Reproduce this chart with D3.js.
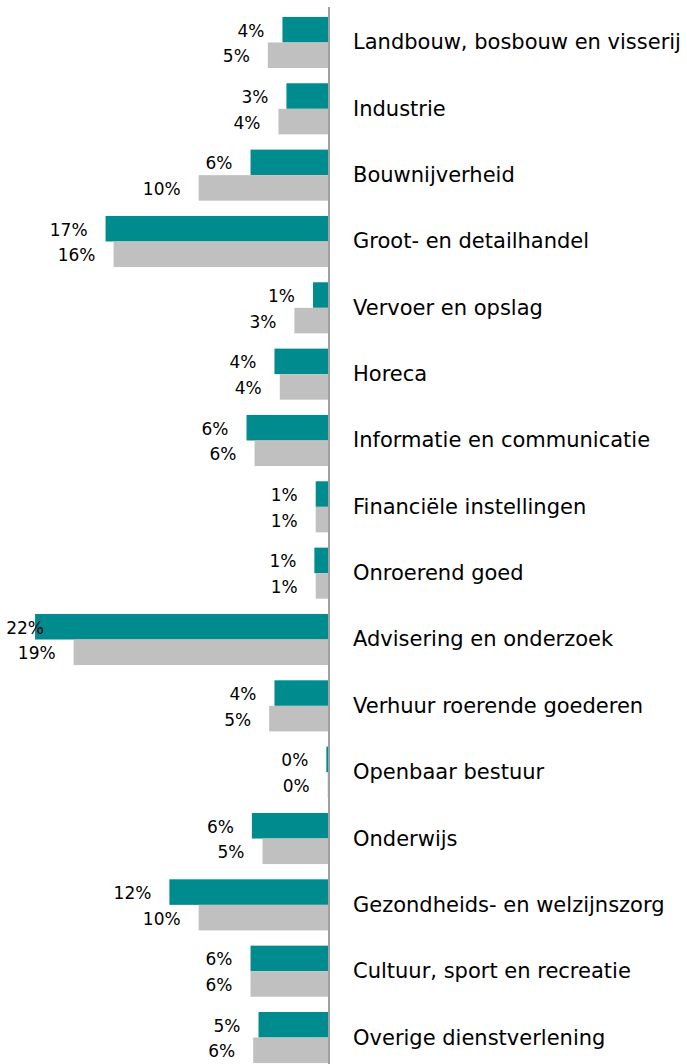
<!DOCTYPE html>
<html>
<head>
<meta charset="utf-8">
<script src="https://cdn.jsdelivr.net/npm/d3@7"></script>
<style>
  body { margin: 0; background: #fff; }
  svg text { font-family: "DejaVu Sans", Verdana, sans-serif; fill: #000; }
</style>
</head>
<body>
<svg id="chart"></svg>
<script>
(function() {

    var width = 687,
        height = 1064;

    // sectors (top to bottom)
    var categories = [
        "Landbouw, bosbouw en visserij",
        "Industrie",
        "Bouwnijverheid",
        "Groot- en detailhandel",
        "Vervoer en opslag",
        "Horeca",
        "Informatie en communicatie",
        "Financiële instellingen",
        "Onroerend goed",
        "Advisering en onderzoek",
        "Verhuur roerende goederen",
        "Openbaar bestuur",
        "Onderwijs",
        "Gezondheids- en welzijnszorg",
        "Cultuur, sport en recreatie",
        "Overige dienstverlening"
    ];

    var series = ["teal", "grey"];

    // shares
    var tealValues = [0.035, 0.032, 0.059, 0.168, 0.012, 0.041, 0.062, 0.010, 0.011, 0.221, 0.041, 0.002, 0.058, 0.120, 0.059, 0.053];
    var greyValues = [0.046, 0.038, 0.098, 0.162, 0.026, 0.037, 0.056, 0.010, 0.010, 0.192, 0.045, 0.001, 0.050, 0.098, 0.059, 0.057];

    var colors = { teal: "#008b8f", grey: "#c0c0c0" };

    var rows = categories.map(function(c, i) {
        return { name: c, teal: tealValues[i], grey: greyValues[i] };
    });

    var svg = d3.select("#chart")
        .attr("width", width)
        .attr("height", height);

    var axisX = 329;

    var y = d3.scaleBand()
        .domain(categories)
        .range([9.3, 1070.7])
        .paddingInner(0.23)
        .paddingOuter(0.115);

    var ySub = d3.scaleBand()
        .domain(series)
        .range([0, y.bandwidth()]);

    var x = d3.scaleLinear()
        .domain([0, 0.2])
        .range([axisX, axisX - 266]);

    var pct = d3.format(".0%");

    var groups = svg.selectAll(".group")
        .data(rows)
        .enter()
        .append("g")
        .attr("class", "group")
        .attr("transform", function(d) { return "translate(0," + y(d.name) + ")"; });

    groups.selectAll("rect")
        .data(function(d) { return series.map(function(s) { return { key: s, value: d[s] }; }); })
        .enter()
        .append("rect")
        .attr("x", function(d) { return x(d.value); })
        .attr("y", function(d) { return ySub(d.key); })
        .attr("width", function(d) { return axisX - x(d.value); })
        .attr("height", ySub.bandwidth())
        .attr("fill", function(d) { return colors[d.key]; });

    // value labels, kept inside the plot on the left
    groups.selectAll(".val")
        .data(function(d) { return series.map(function(s) { return { key: s, value: d[s] }; }); })
        .enter()
        .append("text")
        .attr("class", "val")
        .attr("x", function(d) { return Math.max(x(d.value) - 18, 44); })
        .attr("y", function(d) { return ySub(d.key) + ySub.bandwidth() / 2 + 2; })
        .attr("text-anchor", "end")
        .attr("dominant-baseline", "middle")
        .attr("font-size", "17px")
        .text(function(d) { return pct(d.value); });

    // category labels
    groups.append("text")
        .attr("x", 353)
        .attr("y", y.bandwidth() / 2 + 1)
        .attr("dominant-baseline", "middle")
        .attr("font-size", "21px")
        .text(function(d) { return d.name; });

    // vertical axis
    svg.append("line")
        .attr("x1", axisX)
        .attr("x2", axisX)
        .attr("y1", 7)
        .attr("y2", height)
        .attr("stroke", "#a0a0a0")
        .attr("stroke-width", 2);

})();
</script>
</body>
</html>
